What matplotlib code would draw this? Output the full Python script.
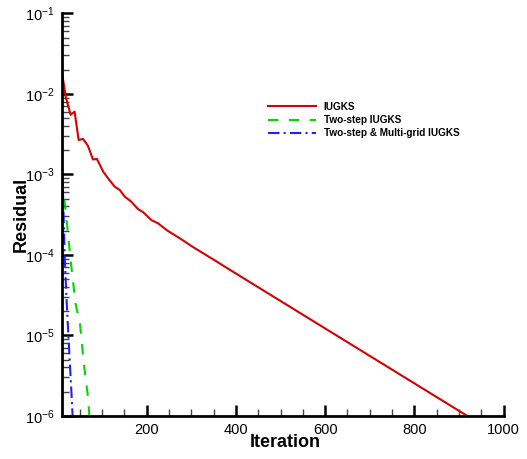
import matplotlib
matplotlib.use("Agg")
import matplotlib.pyplot as plt
import numpy as np
from matplotlib.ticker import MultipleLocator, LogLocator

plt.rcParams['font.family'] = ['Liberation Sans', 'DejaVu Sans']
plt.rcParams['mathtext.fontset'] = 'custom'
plt.rcParams['mathtext.rm'] = 'Liberation Sans'
plt.rcParams['mathtext.default'] = 'regular'

# IUGKS residual history
iugks_it = [10, 19, 30, 39, 48, 58, 69, 80, 89, 99, 103, 114, 129, 140, 151,
            166, 181, 192, 211, 226, 245, 275, 304, 349, 387, 918]
iugks_res = [1.97e-2, 9.2e-3, 5.5e-3, 6.0e-3, 2.67e-3, 2.75e-3, 2.25e-3, 1.53e-3,
             1.55e-3, 1.2e-3, 1.08e-3, 8.9e-4, 7.0e-4, 6.4e-4, 5.3e-4,
             4.57e-4, 3.7e-4, 3.4e-4, 2.7e-4, 2.46e-4, 2.03e-4, 1.6e-4, 1.25e-4,
             8.8e-5, 6.5e-5, 1.0e-6]

# Two-step IUGKS
two_it = [10, 13, 21, 30, 41, 51, 60, 69, 72]
two_res = [1.6e-3, 7e-4, 2.7e-4, 8.7e-5, 2.5e-5, 1.4e-5, 4.3e-6, 1.7e-6, 1.0e-6]

# Two-step & Multi-grid IUGKS
mg_it = [10, 13, 17, 21, 24, 28, 32, 34.5]
mg_res = [1.2e-3, 6e-4, 8.7e-5, 2.75e-5, 1.3e-5, 4.9e-6, 1.9e-6, 1.0e-6]

fig = plt.figure(figsize=(5.27, 4.59), dpi=100)
ax = fig.add_axes([0.117, 0.094, 0.839, 0.877])

ax.plot(iugks_it, iugks_res, color='#d80000', lw=1.5, label='IUGKS')
ax.plot(two_it, two_res, color='#00d800', lw=1.5, dashes=(5, 5), label='Two-step IUGKS')
ax.plot(mg_it, mg_res, color='#2020ff', lw=1.5, dashes=(5.5, 2, 1, 2),
        label='Two-step & Multi-grid IUGKS')

ax.set_yscale('log')
ax.set_xlim(10, 1000)
ax.set_ylim(1e-6, 1e-1)
ax.xaxis.set_major_locator(MultipleLocator(200))
ax.xaxis.set_minor_locator(MultipleLocator(50))
ax.yaxis.set_major_locator(LogLocator(base=10, numticks=10))
ax.yaxis.set_minor_locator(LogLocator(base=10, subs=np.arange(2, 10), numticks=10))

for s in ['top', 'right']:
    ax.spines[s].set_visible(False)
for s in ['left', 'bottom']:
    ax.spines[s].set_linewidth(2)

ax.tick_params(which='major', direction='in', length=8, width=1.8, labelsize=10.5, pad=5)
ax.tick_params(which='minor', direction='in', length=5, width=1, color='#444444')

ax.set_xlabel('Iteration', fontsize=13, fontweight='bold')
ax.set_ylabel('Residual', fontsize=13, fontweight='bold')
ax.xaxis.set_label_coords(0.505, -0.045)
ax.yaxis.set_label_coords(-0.072, 0.5)

leg = ax.legend(loc='upper left', bbox_to_anchor=(0.466, 0.78), frameon=False,
                prop={'size': 7.2, 'weight': 'bold'}, handlelength=4.8,
                handletextpad=0.8, labelspacing=0.33, borderpad=0, borderaxespad=0)

fig.savefig('out.png', dpi=100)
